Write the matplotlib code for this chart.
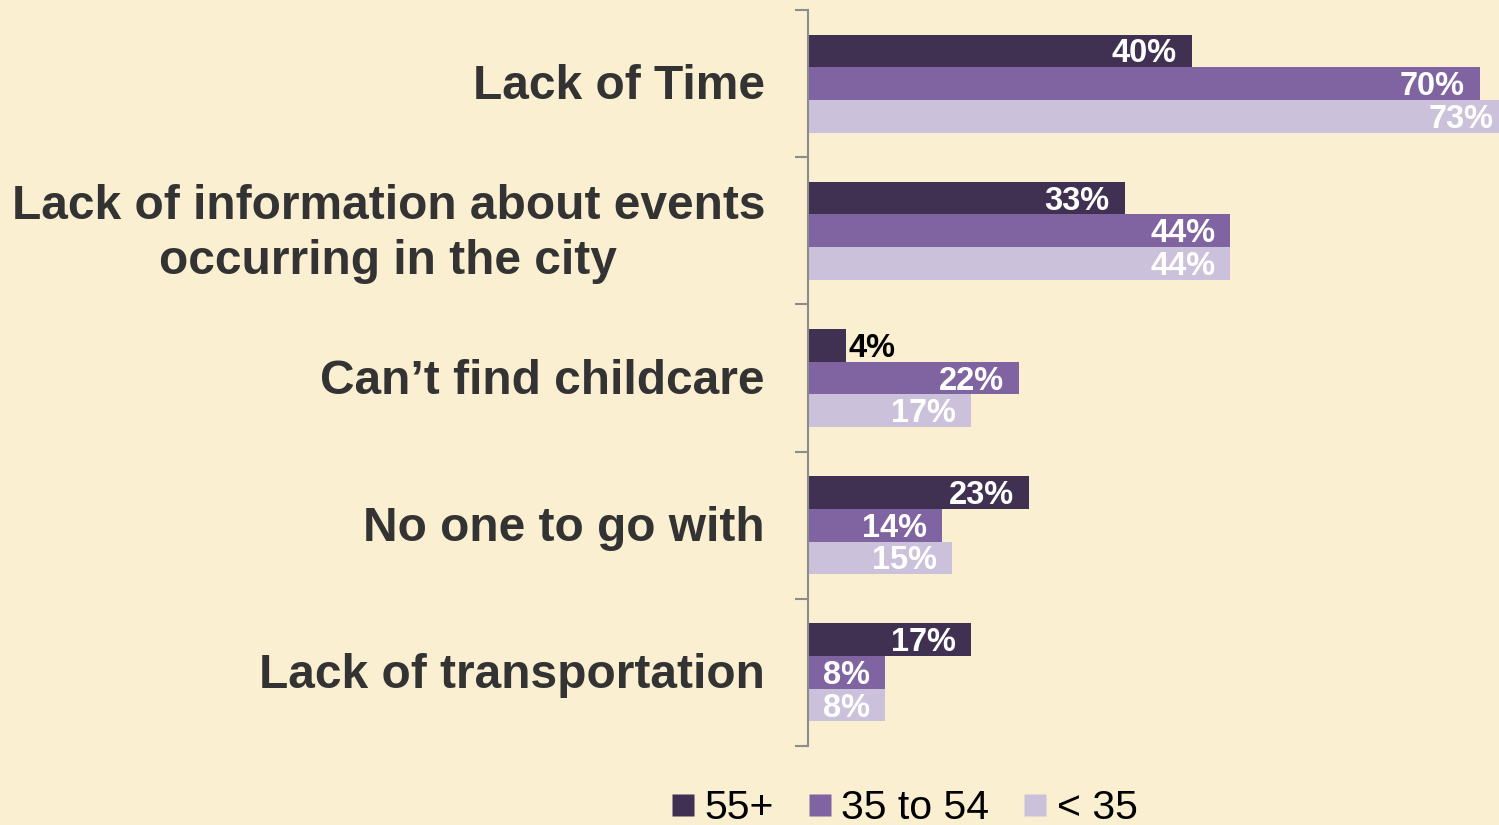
import matplotlib
matplotlib.use("Agg")
import matplotlib.pyplot as plt
from matplotlib.lines import Line2D
import numpy as np

categories = ["Lack of Time",
              "Lack of information about events\noccurring in the city",
              "Can\u2019t find childcare",
              "No one to go with",
              "Lack of transportation"]
series_names = ["55+", "35 to 54", "< 35"]
values_55 = [40, 33, 4, 23, 17]
values_35_54 = [70, 44, 22, 14, 8]
values_u35 = [73, 44, 17, 15, 8]
colors = ["#403152", "#8064A2", "#CCC1DA"]
bg = "#FAEFD0"

plt.rcParams['font.family'] = ['Liberation Sans', 'DejaVu Sans']

W, H = 1499, 825
fig = plt.figure(figsize=(W / 100, H / 100), dpi=100, facecolor=bg)
ax_left = 808 / W
ax_bottom = 1 - 746 / H
ax_height = (746 - 10) / H
ax_width = 1 - ax_left
ax = fig.add_axes([ax_left, ax_bottom, ax_width, ax_height])
ax.set_facecolor(bg)

px_per_unit = 9.6
xmax = (W - 808) / px_per_unit
ax.set_xlim(0, xmax)
ax.set_ylim(len(categories) - 0.5, -0.5)

y = np.arange(len(categories))
bh = 0.222
all_series = [values_55, values_35_54, values_u35]
for k, (vals, col) in enumerate(zip(all_series, colors)):
    yy = y + (k - 1) * bh
    ax.barh(yy, vals, height=bh, color=col, edgecolor='none', zorder=2)
    for yi, v in zip(yy, vals):
        if v < 6:
            ax.annotate(f"{v}%", xy=(v, yi), xytext=(2, -3), textcoords='offset pixels',
                        ha='left', va='center', fontsize=23.5, fontweight='bold',
                        color='black', annotation_clip=False, zorder=3)
        else:
            ax.annotate(f"{v}%", xy=(v, yi), xytext=(-15, -3), textcoords='offset pixels',
                        ha='right', va='center', fontsize=23.5, fontweight='bold',
                        color='white', annotation_clip=False, zorder=3)

for i, c in enumerate(categories):
    ax.annotate(c, xy=(0, i), xycoords=('axes fraction', 'data'),
                xytext=(-43, -3), textcoords='offset pixels',
                ha='right', va='center', multialignment='center',
                fontsize=34.5, fontweight='bold', color='#333333',
                linespacing=1.28, annotation_clip=False)

for s in ['top', 'right', 'bottom']:
    ax.spines[s].set_visible(False)
ax.spines['left'].set_color('#8C8C8C')
ax.spines['left'].set_linewidth(1.5)
ax.set_xticks([])
ax.set_yticks(np.arange(-0.5, len(categories) + 0.5, 1.0))
ax.set_yticklabels([])
ax.tick_params(axis='y', direction='out', length=9.5, width=1.5, color='#8C8C8C')

handles = [Line2D([], [], marker='s', linestyle='none', markersize=15.5,
                  markerfacecolor=c, markeredgecolor='none') for c in colors]
fig.legend(handles, series_names, loc='center', bbox_to_anchor=(904.5 / W, 1 - 808 / H),
           ncol=3, frameon=False, fontsize=29.5, handlelength=0.55, handletextpad=0.25,
           columnspacing=0.85, borderpad=0, borderaxespad=0)

fig.savefig("out.png", dpi=100, facecolor=bg)
